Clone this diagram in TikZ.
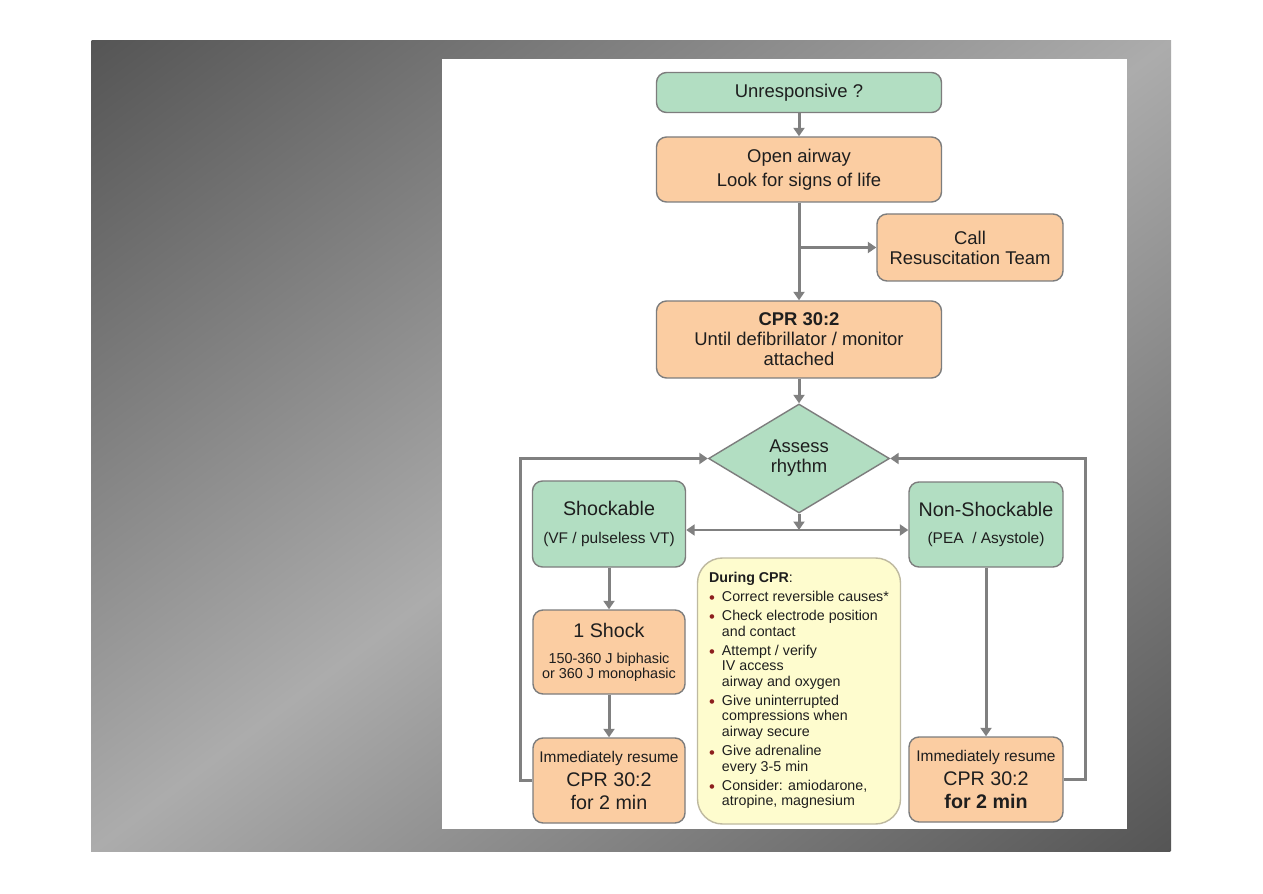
\documentclass[tikz,border=0pt]{standalone}
\usepackage{fontspec}
\setmainfont{Liberation Sans}
\usepackage{xcolor}
\usetikzlibrary{arrows.meta,shapes.geometric}

\definecolor{boxgreen}{RGB}{178,222,194}
\definecolor{boxorange}{RGB}{251,205,162}
\definecolor{boxyellow}{RGB}{254,252,206}
\definecolor{boxline}{RGB}{125,125,125}
\definecolor{yellowline}{RGB}{190,185,160}
\definecolor{arrowgray}{RGB}{128,128,128}
\definecolor{bulletred}{RGB}{140,30,30}
\definecolor{slidedark}{RGB}{85,85,85}
\definecolor{slidelight}{RGB}{172,172,172}
\definecolor{textdark}{RGB}{30,30,30}

\newcommand{\fs}[2]{\fontsize{#1}{#2}\selectfont}
\newcommand{\bul}{\raisebox{-1.4pt}{\textcolor{bulletred}{\fs{9.5}{9.5}\textbullet}}}

\begin{document}
\begin{tikzpicture}[
  box/.style={draw=boxline,line width=0.8pt,rounded corners=0.2cm,
    align=center,inner sep=0pt,text=textdark},
  greenbox/.style={box,fill=boxgreen},
  orangebox/.style={box,fill=boxorange},
  arr/.style={-{Triangle[length=0.17cm,width=0.22cm]},line width=1.7pt,arrowgray}]
  \useasboundingbox (0,0) rectangle (25.26,17.86);

  % Slide background
  \begin{scope}
    \clip (1.82,0.84) rectangle (23.42,17.04);
    \begin{scope}[transform canvas={rotate around={-53.13:(12.62,8.94)}}]
      \shade[left color=slidedark,right color=slidedark,middle color=slidelight]
        (12.62-12.96,8.94-20) rectangle (12.62+12.96,8.94+20);
    \end{scope}
  \end{scope}
  \fill[white] (8.84,1.28) rectangle (22.54,16.68);

  % Top of the chart
  \node[greenbox,minimum width=5.7cm,minimum height=0.8cm,font=\fs{10.5}{11.4}]
    (unresp) at (15.98,16.01) {Unresponsive ?};
  \node[orangebox,minimum width=5.7cm,minimum height=1.3cm,font=\fs{10.5}{13.7}]
    (airway) at (15.98,14.47) {Open airway\\Look for signs of life};
  \node[orangebox,minimum width=3.72cm,minimum height=1.34cm,font=\fs{10.5}{11.4}]
    (callteam) at (19.40,12.91) {Call\\Resuscitation Team};
  \node[orangebox,minimum width=5.7cm,minimum height=1.54cm,font=\fs{10.5}{11.4}]
    (cpr) at (15.98,11.07) {\textbf{CPR 30:2}\\Until defibrillator / monitor\\attached};

  % Rhythm check
  \node[greenbox,diamond,rounded corners=0pt,minimum width=3.62cm,
    minimum height=2.18cm,font=\fs{10.5}{11.4}]
    (assess) at (15.98,8.69) {Assess\\rhythm};
  \node[greenbox,minimum width=3.06cm,minimum height=1.72cm,font=\fs{11.2}{15.4}]
    (shock) at (12.18,7.38) {Shockable\\{\fs{8.8}{15.4}(VF / pulseless VT)}};
  \node[greenbox,minimum width=3.08cm,minimum height=1.70cm,font=\fs{11.2}{15.4}]
    (nonshock) at (19.72,7.37) {Non-Shockable\\{\fs{8.8}{15.4}(PEA~ / Asystole)}};

  % Shockable side
  \node[orangebox,minimum width=3.04cm,minimum height=1.68cm,font=\fs{11.2}{8.5}]
    (oneshock) at (12.18,4.82)
    {1 Shock\\[6.3pt]{\fs{8.2}{8.5}150-360 J biphasic}\\{\fs{8.2}{8.5}or 360 J monophasic}};
  \node[orangebox,minimum width=3.04cm,minimum height=1.70cm,font=\fs{11.2}{13.1}]
    (resumeL) at (12.18,2.25)
    {{\fs{8.8}{13.1}Immediately resume}\\[0.6pt]CPR 30:2\\for 2 min};

  % Non-shockable side
  \node[orangebox,minimum width=3.08cm,minimum height=1.70cm,font=\fs{11.2}{13.1}]
    (resumeR) at (19.72,2.27)
    {{\fs{8.8}{13.1}Immediately resume}\\[0.6pt]CPR 30:2\\\textbf{for 2 min}};

  % During CPR
  \node[box,fill=boxyellow,draw=yellowline,rounded corners=0.5cm,
    minimum width=4.06cm,minimum height=5.32cm,font=\fs{8.1}{8.9}]
    (during) at (15.98,4.04) {%
    \begin{tabular}{@{}l@{\hspace{4pt}}l@{}}
      \multicolumn{2}{@{}l}{\textbf{During CPR}:}\\[1.9pt]
      \bul & Correct reversible causes*\\[1.9pt]
      \bul & Check electrode position\\
           & and contact\\[1.9pt]
      \bul & Attempt / verify\\
           & IV access\\
           & airway and oxygen\\[1.9pt]
      \bul & Give uninterrupted\\
           & compressions when\\
           & airway secure\\[1.9pt]
      \bul & Give adrenaline\\
           & every 3-5 min\\[1.9pt]
      \bul & Consider: amiodarone,\\
           & atropine, magnesium
    \end{tabular}};

  % Connectors
  \draw[arr] (unresp) -- (airway);
  \draw[arr] (airway) -- (cpr);
  \draw[arr] (airway.south |- callteam.west) -- (callteam);
  \draw[arr] (cpr) -- (assess);
  \coordinate (split) at (15.98,7.26);
  \draw[arr] (assess) -- (split);
  \draw[arr] (split) -- (split -| shock.east);
  \draw[arr] (split) -- (split -| nonshock.west);
  \draw[arr] (shock) -- (oneshock);
  \draw[arr] (oneshock) -- (resumeL);
  \draw[arr] (nonshock) -- (resumeR);
  \draw[arr] (resumeL.west) -- ++(-0.24,0) |- (assess.west);
  \draw[arr] (resumeR.east) -- ++(0.44,0) |- (assess.east);
\end{tikzpicture}
\end{document}
